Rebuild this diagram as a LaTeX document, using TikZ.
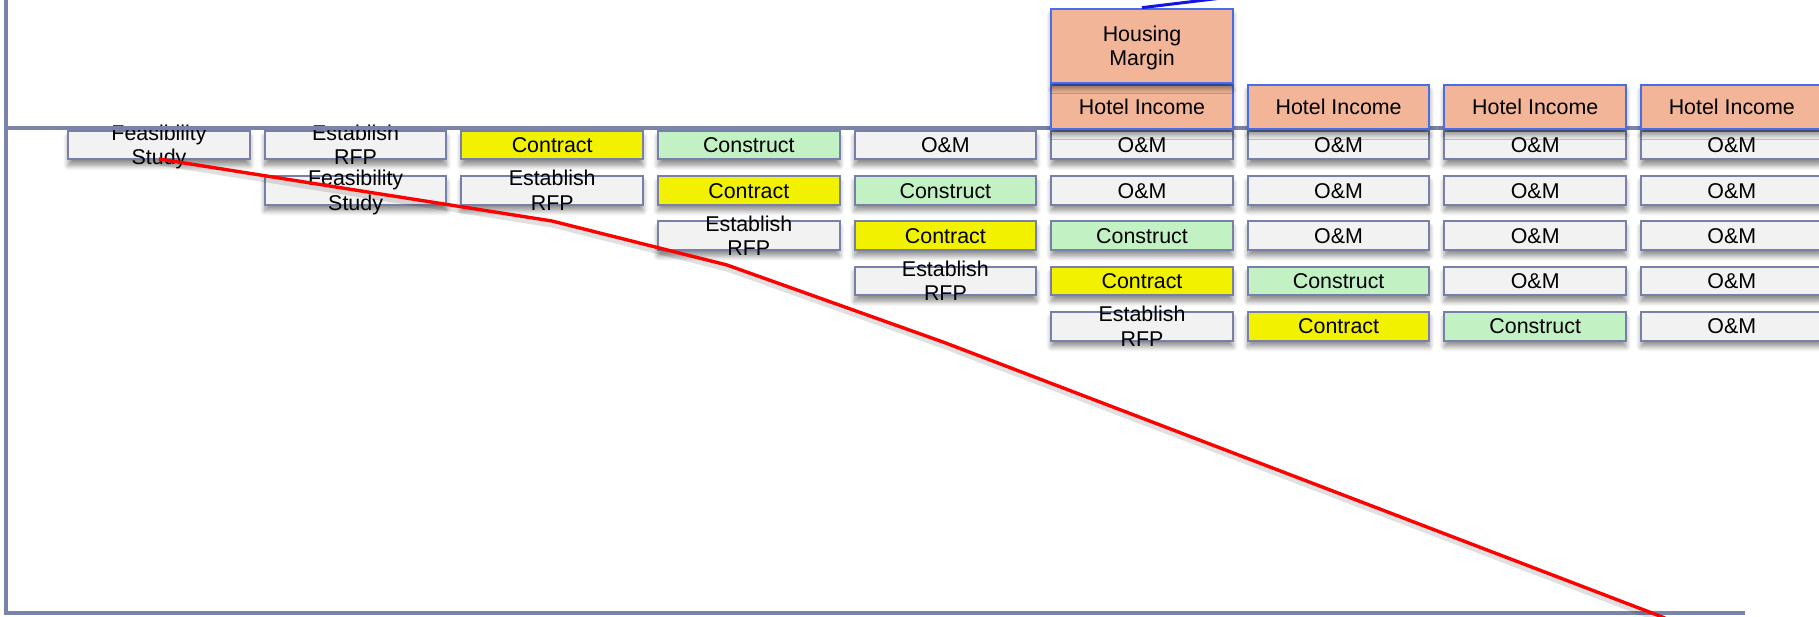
\documentclass[tikz,border=0pt]{standalone}
\usepackage{fontspec}
\setmainfont{Liberation Sans}
\usetikzlibrary{positioning,shadows.blur}
\definecolor{colorplain}      {RGB}{242,242,242}
\definecolor{colorcontract}   {RGB}{242,242,0  }
\definecolor{colorconstruct}  {RGB}{194,242,196}
\definecolor{colorincome}     {RGB}{242,181,152}
\definecolor{colorframe}      {RGB}{118,128,168}
\definecolor{colorincomeframe}{RGB}{70 ,110,235}
\definecolor{coloraxis}       {RGB}{122,132,170}
\definecolor{colorcost}       {RGB}{255,0  ,0  }
\definecolor{colorlink}       {RGB}{20 ,20 ,230}
\newcommand{\twolines}[2]{\raisebox{-6.075pt}[0pt][0pt]{\begin{tabular}[b]{@{}c@{}}#1\\#2\end{tabular}}}

\begin{document}
\begin{tikzpicture}[
    x=0.5pt, y=-0.5pt,
    node distance = 7.3pt and 6.55pt,
    font={\fontsize{10.7}{12.15}\selectfont},
    base/.style={text=black,inner sep=0pt,rectangle,text height=7.7pt,text depth=0pt,
        blur shadow={shadow xshift=0pt,shadow yshift=-3pt,shadow opacity=45,shadow blur radius=2.5pt,shadow blur steps=8}},
    phase/.style={base,line width=1pt,draw=colorframe,fill=colorplain,minimum width=90.75pt,minimum height=14.35pt},
    contract/.style={phase,fill=colorcontract},
    construct/.style={phase,fill=colorconstruct},
    income/.style={base,line width=1pt,draw=colorincomeframe,fill=colorincome,minimum width=90.75pt,minimum height=22pt},
    axis/.style={line width=1.75pt,draw=coloraxis},
    cost/.style={line width=1.7pt,draw=colorcost,line join=round,
        preaction={draw=black,opacity=0.12,line width=2.5pt,transform canvas={yshift=-2pt}}},
]
    \path[use as bounding box,clip] (0,0) rectangle (1819,616);

    % Projects, one per row
    \node[phase] (r1c1) at (159,145) {\twolines{Feasibility}{Study}};
    \node[phase,right=of r1c1] (r1c2) {\twolines{Establish}{RFP}};
    \node[contract,right=of r1c2] (r1c3) {Contract};
    \node[construct,right=of r1c3] (r1c4) {Construct};
    \node[phase,right=of r1c4] (r1c5) {O\&M};
    \node[phase,right=of r1c5] (r1c6) {O\&M};
    \node[phase,right=of r1c6] (r1c7) {O\&M};
    \node[phase,right=of r1c7] (r1c8) {O\&M};
    \node[phase,right=of r1c8] (r1c9) {O\&M};

    \node[phase,below=of r1c2] (r2c2) {\twolines{Feasibility}{Study}};
    \node[phase,right=of r2c2] (r2c3) {\twolines{Establish}{RFP}};
    \node[contract,right=of r2c3] (r2c4) {Contract};
    \node[construct,right=of r2c4] (r2c5) {Construct};
    \node[phase,right=of r2c5] (r2c6) {O\&M};
    \node[phase,right=of r2c6] (r2c7) {O\&M};
    \node[phase,right=of r2c7] (r2c8) {O\&M};
    \node[phase,right=of r2c8] (r2c9) {O\&M};

    \node[phase,below=of r2c4] (r3c4) {\twolines{Establish}{RFP}};
    \node[contract,right=of r3c4] (r3c5) {Contract};
    \node[construct,right=of r3c5] (r3c6) {Construct};
    \node[phase,right=of r3c6] (r3c7) {O\&M};
    \node[phase,right=of r3c7] (r3c8) {O\&M};
    \node[phase,right=of r3c8] (r3c9) {O\&M};

    \node[phase,below=of r3c5] (r4c5) {\twolines{Establish}{RFP}};
    \node[contract,right=of r4c5] (r4c6) {Contract};
    \node[construct,right=of r4c6] (r4c7) {Construct};
    \node[phase,right=of r4c7] (r4c8) {O\&M};
    \node[phase,right=of r4c8] (r4c9) {O\&M};

    \node[phase,below=of r4c6] (r5c6) {\twolines{Establish}{RFP}};
    \node[contract,right=of r5c6] (r5c7) {Contract};
    \node[construct,right=of r5c7] (r5c8) {Construct};
    \node[phase,right=of r5c8] (r5c9) {O\&M};

    % Axes
    \coordinate (ytop) at (6,0);
    \coordinate (ybot) at (6,613);
    \coordinate (xmid) at (6,128);
    \coordinate (xmidend) at (1819,128);
    \coordinate (xbotend) at (1745,613);
    \draw[axis] (ytop) -- (ybot) -- (xbotend);
    \draw[axis] (xmid) -- (xmidend);

    % Income
    \node[income,above=0pt of r1c6] (inc6) {Hotel Income};
    \node[income,above=0pt of r1c7] (inc7) {Hotel Income};
    \node[income,above=0pt of r1c8] (inc8) {Hotel Income};
    \node[income,above=0pt of r1c9] (inc9) {Hotel Income};
    \node[income,minimum height=37pt,above=0pt of inc6] (margin) {\twolines{Housing}{Margin}};

    % Cost curve
    \coordinate (k1) at (159,159);
    \coordinate (k2) at (355,190);
    \coordinate (k3) at (552,221);
    \coordinate (k4) at (727,265);
    \coordinate (k5) at (943,342);
    \coordinate (k6) at (1665,618);
    \draw[cost] (k1) -- (k2) -- (k3) -- (k4) -- (k5) -- (k6);

    \coordinate (linkend) at (1280,-9);
    \draw[line width=1.5pt,draw=colorlink] (margin.north) -- (linkend);

\end{tikzpicture}
\end{document}
